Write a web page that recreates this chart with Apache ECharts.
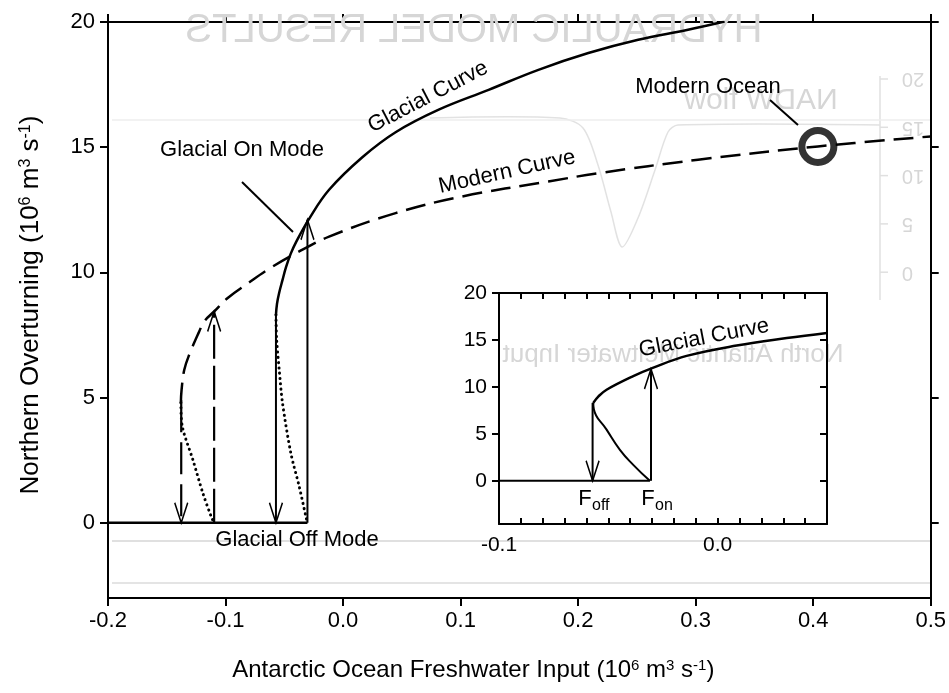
<!DOCTYPE html>
<html>
<head>
<meta charset="utf-8">
<script src="https://cdn.jsdelivr.net/npm/echarts@6/dist/echarts.min.js"></script>
<style>
html,body{margin:0;padding:0;background:#fff;}
#chart{width:949px;height:693px;}
</style>
</head>
<body>
<div id="chart"></div>
<script>
// ---- data ----
const mainXTicks = [-0.2, -0.1, 0.0, 0.1, 0.2, 0.3, 0.4, 0.5];
const mainYTicks = [0, 5, 10, 15, 20];
const insetYTicks = [0, 5, 10, 15, 20];
const insetXLabels = [-0.1, 0.0];

// glacial curve (stable upper branch), main panel
const glacialUpper = [[-0.0571,8.3],[-0.0562,8.75],[-0.0543,9.2],[-0.0515,9.7],[-0.0486,10.2],[-0.0445,10.75],[-0.0401,11.2],[-0.0294,12.1],[-0.0119,13.3],[0.0164,14.6],[0.0447,15.6],[0.0814,16.5],[0.1238,17.29],[0.1662,18.09],[0.2087,18.76],[0.2511,19.29],[0.2935,19.69],[0.3246,20.02]];
// glacial unstable branch (dotted)
const glacialUnstable = [[-0.0571,8.3],[-0.0565,7.3],[-0.0543,6.1],[-0.0515,4.78],[-0.0444,2.78],[-0.0373,1.45],[-0.0316,0.25],[-0.0303,0]];
// modern curve (dashed)
const modernUpper = [[-0.138,4.8],[-0.1374,5.31],[-0.1351,6.11],[-0.1309,6.71],[-0.1224,7.64],[-0.1182,8.04],[-0.1097,8.44],[-0.0984,8.97],[-0.0814,9.55],[-0.0628,10.15],[-0.0401,10.77],[-0.0119,11.43],[0.0447,12.37],[0.101,13.03],[0.1747,13.63],[0.217,13.96],[0.302,14.5],[0.404,15.03],[0.5,15.43]];
// modern unstable branch (dotted)
const modernUnstable = [[-0.138,4.8],[-0.1368,3.85],[-0.1278,2.52],[-0.1193,1.19],[-0.1122,0.25],[-0.1097,0]];
// off mode
const offMode = [[-0.2,0],[-0.0303,0]];
// transitions: [x, yFrom, yTo]
const glacialOffJump = [-0.0571, 8.3, 0];
const glacialOnJump = [-0.0303, 0, 12.1];
const modernOffJump = [-0.1377, 4.9, 0];
const modernOnJump = [-0.1097, 0, 8.44];
// modern ocean state
const modernOcean = [0.404, 15.03];

// inset
const insetGlacial = [[-0.0569,8.3],[-0.0545,9.0],[-0.0508,9.7],[-0.0386,11.15],[-0.0294,12.05],[-0.0142,13.3],[0.0087,14.4],[0.0316,15.2],[0.05,15.75]];
const insetUnstable = [[-0.0569,8.3],[-0.0566,7.6],[-0.0508,5.45],[-0.0447,3.3],[-0.0386,1.7],[-0.031,0]];
const insetOff = [[-0.1,0],[-0.031,0]];
const insetOffJump = [-0.0572, 8.3, 0];
const insetOnJump = [-0.0305, 0, 11.9];

// faint bleed-through scale on the right (mirrored)
const ghostScale = ['20', '15', '10', '5', '0'];

// ---- chart ----
const FONT = '"Liberation Sans", Arial, Helvetica, sans-serif';
const BLACK = '#000';
const GHOST = '#d6d6d6';
const ARROW_UP = 'path://M0,20 L6,0 L12,20';
const ARROW_DOWN = 'path://M0,0 L6,20 L12,0';

function curve(data, g, type, width, smooth) {
  return {
    type: 'line', xAxisIndex: g === 0 ? 0 : 2, yAxisIndex: g === 0 ? 0 : 2,
    data: data, symbol: 'none', smooth: smooth === undefined ? 0.4 : smooth,
    lineStyle: {color: BLACK, width: width, type: type},
    silent: true, z: g === 0 ? 3 : 8
  };
}
function dotted(data, g) {
  const s = curve(data, g, [0.1, 5.2], 3, 0.3);
  s.lineStyle.cap = 'round';
  return s;
}
function jump(j, g, type, width) {
  const up = j[2] > j[1];
  return {
    type: 'line', xAxisIndex: g === 0 ? 0 : 2, yAxisIndex: g === 0 ? 0 : 2,
    data: [[j[0], j[1]], {value: [j[0], j[2]], symbol: up ? ARROW_UP : ARROW_DOWN,
      symbolSize: [13, 20], symbolOffset: [0, up ? '50%' : '-50%']}],
    symbol: 'none', showSymbol: true,
    itemStyle: {color: 'rgba(0,0,0,0)', borderColor: BLACK, borderWidth: 1.8},
    lineStyle: {color: BLACK, width: width, type: type},
    silent: true, z: g === 0 ? 4 : 9
  };
}

const axisLine = {onZero: false, lineStyle: {color: BLACK, width: 2}};
const tickStyle = {color: BLACK, width: 2};
const labelStyle = {color: BLACK, fontSize: 22, fontFamily: FONT};
const insetLabelStyle = {color: BLACK, fontSize: 21, fontFamily: FONT};
const supRich = {sup: {fontSize: 15, fontFamily: FONT, color: BLACK, verticalAlign: 'top', lineHeight: 12}};
const supRichY = {sup: {fontSize: 16, fontFamily: FONT, color: BLACK, verticalAlign: 'top', lineHeight: 12}};

const fmt1 = v => (Math.abs(v) < 1e-9 ? '0.0' : v.toFixed(1));

const ghostText = (text, x, y, size) => ({type: 'text', x: x, y: y, scaleX: -1, z: 1, silent: true,
  style: {text: text, fontSize: size, fontFamily: FONT, fill: GHOST, align: 'center', verticalAlign: 'middle'}});
const label = (text, x, y, deg, z) => ({type: 'text', x: x, y: y, z: z || 10, rotation: (deg || 0) * Math.PI / 180, silent: true,
  style: {text: text, fontSize: 22, fontFamily: FONT, fill: BLACK, align: 'center', verticalAlign: 'middle'}});

const graphics = [
  ghostText('HYDRAULIC MODEL RESULTS', 474, 31, 40),
  ghostText('NADW flow', 761, 101, 30),
  ghostText('North Atlantic Meltwater Input', 673, 355, 26),
  {type: 'polyline', z: 1, silent: true, shape: {points: [[430,118],[560,118],[583,128],[598,165],[611,212],[622,247],[638,218],[655,170],[668,132],[678,125],[880,125]], smooth: 0.3},
   style: {stroke: '#e2e2e2', lineWidth: 1.5, fill: null}},
  {type: 'line', z: 1, silent: true, shape: {x1: 880, y1: 76, x2: 880, y2: 300}, style: {stroke: '#e0e0e0', lineWidth: 1.5}},
  {type: 'line', z: 1, silent: true, shape: {x1: 112, y1: 541, x2: 930, y2: 541}, style: {stroke: '#e0e0e0', lineWidth: 2}},
  {type: 'line', z: 1, silent: true, shape: {x1: 112, y1: 583, x2: 930, y2: 583}, style: {stroke: '#e4e4e4', lineWidth: 2}},
  {type: 'line', z: 1, silent: true, shape: {x1: 112, y1: 120, x2: 930, y2: 120}, style: {stroke: '#eeeeee', lineWidth: 1.5}},
  label('Glacial On Mode', 242, 150),
  {type: 'line', z: 10, silent: true, shape: {x1: 242, y1: 182, x2: 293, y2: 232}, style: {stroke: BLACK, lineWidth: 2}},
  label('Glacial Off Mode', 297, 540),
  label('Modern Ocean', 708, 87),
  {type: 'line', z: 10, silent: true, shape: {x1: 770, y1: 100, x2: 798, y2: 125}, style: {stroke: BLACK, lineWidth: 2}},
  label('Glacial Curve', 428, 97, 27.5),
  label('Modern Curve', 507, 172, 12.5),
  label('Glacial Curve', 704, 338, 11, 20),
  {type: 'text', x: 585, y: 499, z: 20, silent: true, style: {text: 'F', fontSize: 22, fontFamily: FONT, fill: BLACK, align: 'center', verticalAlign: 'middle'}},
  {type: 'text', x: 592, y: 506, z: 20, silent: true, style: {text: 'off', fontSize: 16, fontFamily: FONT, fill: BLACK, align: 'left', verticalAlign: 'middle'}},
  {type: 'text', x: 648, y: 499, z: 20, silent: true, style: {text: 'F', fontSize: 22, fontFamily: FONT, fill: BLACK, align: 'center', verticalAlign: 'middle'}},
  {type: 'text', x: 655, y: 506, z: 20, silent: true, style: {text: 'on', fontSize: 16, fontFamily: FONT, fill: BLACK, align: 'left', verticalAlign: 'middle'}}
];
ghostScale.forEach((t, i) => {
  const yy = 79 + i * 48.3;
  graphics.push({type: 'text', x: 902, y: yy, scaleX: -1, scaleY: -1, z: 1, silent: true,
    style: {text: t, fontSize: 20, fontFamily: FONT, fill: GHOST, align: 'right', verticalAlign: 'middle'}});
  graphics.push({type: 'line', z: 1, silent: true, shape: {x1: 880, y1: yy, x2: 888, y2: yy}, style: {stroke: '#e0e0e0', lineWidth: 1.5}});
});

const option = {
  backgroundColor: '#fff',
  animation: false,
  grid: [
    {left: 108, top: 22, width: 825, height: 576, show: false},
    {left: 499, top: 293, width: 328, height: 231, show: false}
  ],
  xAxis: [
    {gridIndex: 0, type: 'value', min: -0.2, max: 0.5, interval: 0.1, position: 'bottom',
     axisLine: axisLine, axisTick: {length: 8, lineStyle: tickStyle},
     axisLabel: Object.assign({margin: 12, formatter: fmt1, customValues: mainXTicks}, labelStyle),
     splitLine: {show: false},
     name: 'Antarctic Ocean Freshwater Input (10{sup|6} m{sup|3} s{sup|-1})',
     nameLocation: 'middle', nameGap: 60,
     nameTextStyle: {color: BLACK, fontSize: 24, fontFamily: FONT, padding: [0, 92, 0, 0], rich: supRich}},
    {gridIndex: 0, type: 'value', min: -0.2, max: 0.5, interval: 0.1, position: 'top',
     axisLine: axisLine, axisTick: {length: 8, lineStyle: tickStyle},
     axisLabel: {show: false}, splitLine: {show: false}},
    {gridIndex: 1, type: 'value', min: -0.1, max: 0.05, interval: 0.01, position: 'bottom', z: 6,
     axisLine: axisLine, axisTick: {inside: true, length: 6, lineStyle: tickStyle},
     axisLabel: Object.assign({margin: 11, customValues: insetXLabels, formatter: fmt1}, insetLabelStyle),
     splitLine: {show: false}},
    {gridIndex: 1, type: 'value', min: -0.1, max: 0.05, interval: 0.01, position: 'top', z: 6,
     axisLine: axisLine, axisTick: {inside: true, length: 6, lineStyle: tickStyle},
     axisLabel: {show: false}, splitLine: {show: false}}
  ],
  yAxis: [
    {gridIndex: 0, type: 'value', min: -3, max: 20, position: 'left',
     axisLine: axisLine, axisTick: {length: 8, lineStyle: tickStyle, customValues: mainYTicks},
     axisLabel: Object.assign({margin: 13, customValues: mainYTicks}, labelStyle),
     splitLine: {show: false},
     name: 'Northern Overturning (10{sup|6} m{sup|3} s{sup|-1})',
     nameLocation: 'middle', nameGap: 64,
     nameTextStyle: {color: BLACK, fontSize: 26, fontFamily: FONT, padding: [0, 0, 0, 10], rich: supRichY}},
    {gridIndex: 0, type: 'value', min: -3, max: 20, position: 'right',
     axisLine: axisLine, axisTick: {length: 8, lineStyle: tickStyle, customValues: mainYTicks},
     axisLabel: {show: false}, splitLine: {show: false}},
    {gridIndex: 1, type: 'value', min: -4.6, max: 20, position: 'left', z: 6,
     axisLine: axisLine, axisTick: {length: 7, lineStyle: tickStyle, customValues: insetYTicks},
     axisLabel: Object.assign({margin: 12, customValues: insetYTicks}, insetLabelStyle),
     splitLine: {show: false}},
    {gridIndex: 1, type: 'value', min: -4.6, max: 20, position: 'right', z: 6,
     axisLine: axisLine, axisTick: {inside: true, length: 7, lineStyle: tickStyle, customValues: insetYTicks},
     axisLabel: {show: false}, splitLine: {show: false}}
  ],
  series: [
    curve(glacialUpper, 0, 'solid', 2.5),
    dotted(glacialUnstable, 0),
    curve(modernUpper, 0, [20, 9], 2.5),
    dotted(modernUnstable, 0),
    curve(offMode, 0, 'solid', 2.5, false),
    jump(glacialOffJump, 0, 'solid', 2),
    jump(glacialOnJump, 0, 'solid', 2),
    jump(modernOffJump, 0, [32, 10], 2.2),
    jump(modernOnJump, 0, [34, 7], 2.2),
    {type: 'scatter', xAxisIndex: 0, yAxisIndex: 0, data: [modernOcean], symbol: 'circle', symbolSize: 32,
     itemStyle: {color: 'rgba(0,0,0,0)', borderColor: BLACK, borderWidth: 7}, silent: true, z: 5},
    curve(insetGlacial, 1, 'solid', 2.5),
    curve(insetUnstable, 1, 'solid', 2, 0.5),
    curve(insetOff, 1, 'solid', 2, false),
    jump(insetOffJump, 1, 'solid', 2),
    jump(insetOnJump, 1, 'solid', 2)
  ],
  graphic: graphics
};

const chart = echarts.init(document.getElementById('chart'), null, {renderer: 'canvas'});
chart.setOption(option);
</script>
</body>
</html>
